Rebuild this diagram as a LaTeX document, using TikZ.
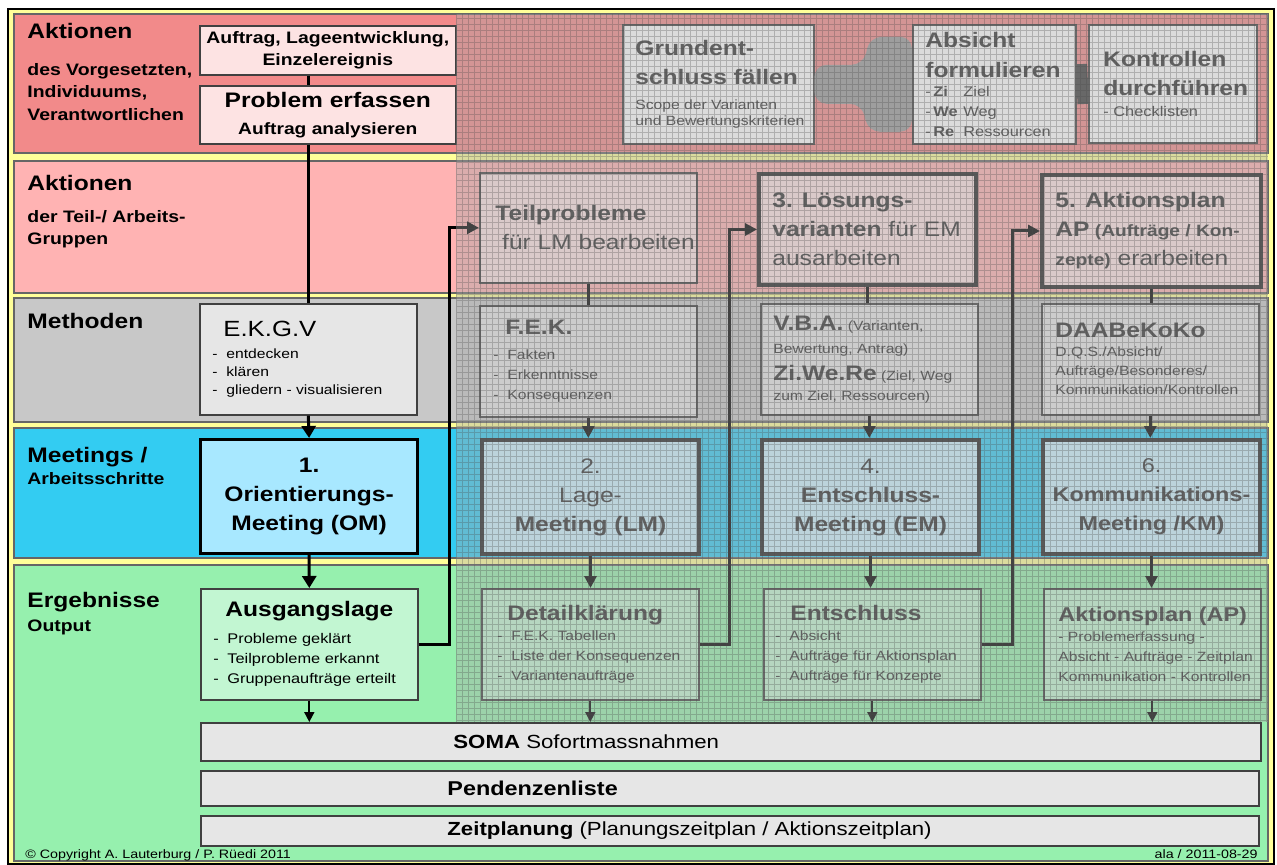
\documentclass[tikz,border=0pt]{standalone}
\usepackage{fontspec}
\setmainfont[FakeStretch=1.17]{Liberation Sans}
\usepackage{xcolor}
\usetikzlibrary{positioning, arrows.meta, calc}

\definecolor{bandred}{HTML}{F28A8A}
\definecolor{bandpink}{HTML}{FFB3B3}
\definecolor{bandgray}{HTML}{C8C8C8}
\definecolor{bandcyan}{HTML}{33CCF2}
\definecolor{bandgreen}{HTML}{96F0AE}
\definecolor{rimyellow}{HTML}{FFFF99}
\definecolor{boxpink}{HTML}{FDE3E3}
\definecolor{boxgray}{HTML}{E6E6E6}
\definecolor{boxcyan}{HTML}{A8E8FF}
\definecolor{boxgreen}{HTML}{C2F6D2}

\newcommand\fbig{\fontsize{10.5}{14.5}\selectfont}
\newcommand\fmid{\fontsize{8.2}{11.2}\selectfont}
\newcommand\fsml{\fontsize{6.7}{10}\selectfont}
\newcommand\itm[1]{\makebox[7pt][l]{-}#1}

\tikzset{
  bandbox/.style={draw=black!60, line width=0.6pt},
  stepbox/.style={draw=black!75, line width=0.8pt, inner sep=0pt, anchor=north west},
  colbox/.style={stepbox, minimum width=108.5pt, minimum height=55.5pt},
  meetbox/.style={colbox, minimum height=57pt, draw=black!85, line width=2pt,
    fill=boxcyan!60!white, align=center, font=\fbig, text=black!80},
  planbox/.style={colbox, draw=black!85, line width=2pt, fill=boxpink},
  boxtext/.style={inner sep=0pt, align=left, font=\fsml},
  dimtext/.style={boxtext, text=black!80},
  bartext/.style={inner sep=0pt, font=\fontsize{9.5}{11}\selectfont},
  bandtitle/.style={anchor=north west, inner sep=0pt, font=\bfseries\fontsize{10.5}{12}\selectfont},
  bandsub/.style={anchor=north west, inner sep=0pt, align=left, font=\bfseries\fontsize{8.3}{11.25}\selectfont},
  link/.style={line width=1.5pt},
  flow/.style={link, -{Triangle[width=7pt,length=6pt]}},
  feed/.style={link, -{Triangle[width=6pt,length=6pt]}},
  thinflow/.style={line width=0.9pt, -{Triangle[width=5pt,length=5pt]}},
}

\begin{document}
\begin{tikzpicture}[x=0.5pt, y=-0.5pt]
  \useasboundingbox (0,0) rectangle (1277,865);
  % Rahmen und Baender
  \draw[fill=rimyellow, line width=1pt] (8,9) rectangle (1274,864);
  \filldraw[bandbox, fill=bandred]   (14,14)  rectangle (1268,153);
  \filldraw[bandbox, fill=bandpink]  (14,161) rectangle (1268,293);
  \filldraw[bandbox, fill=bandgray]  (14,298) rectangle (1268,422);
  \filldraw[bandbox, fill=bandcyan]  (14,428) rectangle (1268,558);
  \filldraw[bandbox, fill=bandgreen] (14,565) rectangle (1268,861);

  \node[bandtitle] (lab1) at (27,23) {Aktionen};
  \node[bandsub] (sub1) at (27,63) {des Vorgesetzten,\\Individuums,\\Verantwortlichen};
  \node[bandtitle] (lab2) at (27,175) {Aktionen};
  \node[bandsub] (sub2) at (27,210) {der Teil-/ Arbeits-\\Gruppen};
  \node[bandtitle] (lab3) at (27,313) {Methoden};
  \node[bandtitle] (lab4) at (27,447) {Meetings /};
  \node[bandsub] (sub4) at (27,472) {Arbeitsschritte};
  \node[bandtitle] (lab5) at (27,592) {Ergebnisse};
  \node[bandsub] (sub5) at (27,620) {Output};

  % Schritt 1
  \node[stepbox, fill=boxpink, minimum width=128pt, minimum height=24.5pt, align=center,
        font=\bfseries\fontsize{8.3}{11}\selectfont] (auftrag) at (199,25) {Auftrag, Lageentwicklung,\\Einzelereignis};
  \node[stepbox, fill=boxpink, minimum width=128pt, minimum height=29pt, align=center,
        font=\bfseries\fontsize{10.5}{13.5}\selectfont] (problem) at (199,85) {Problem erfassen\\{\fmid Auftrag analysieren}};
  \node[colbox, fill=boxgray] (ekgv) at (199,303) {};
  \node[boxtext, right=6.5pt of ekgv.west, font=\fontsize{6.7}{9}\selectfont] (ekgvtxt)
    {\hspace*{5.5pt}{\fontsize{11}{12}\selectfont E.K.G.V}\\[2pt]\itm{entdecken}\\\itm{klären}\\\itm{gliedern - visualisieren}};
  \node[colbox, minimum height=57pt, draw=black, line width=1.6pt, fill=boxcyan, align=center,
        font=\bfseries\fbig] (om) at (199,438) {1.\\Orientierungs-\\Meeting (OM)};
  \node[colbox, fill=boxgreen] (ausg) at (200,588) {};
  \node[boxtext, right=6.5pt of ausg.west, font=\fontsize{7}{10}\selectfont] (ausgtxt)
    {\hspace*{6pt}{\bfseries\fbig Ausgangslage}\\[3.5pt]\itm{Probleme geklärt}\\\itm{Teilprobleme erkannt}\\\itm{Gruppenaufträge erteilt}};

  % Balken
  \node[stepbox, fill=boxgray, minimum width=530pt, minimum height=19pt] (soma) at (200,722) {};
  \node[bartext, right=126.5pt of soma.west] (somatxt) {\textbf{SOMA} Sofortmassnahmen};
  \node[stepbox, fill=boxgray, minimum width=529pt, minimum height=17.5pt] (pend) at (200,770) {};
  \node[bartext, right=123.5pt of pend.west, font=\bfseries\fontsize{10}{11}\selectfont] (pendtxt) {Pendenzenliste};
  \node[stepbox, fill=boxgray, minimum width=529pt, minimum height=15pt] (zeit) at (200,815) {};
  \node[bartext, right=123.5pt of zeit.west] (zeittxt) {\textbf{Zeitplanung} (Planungszeitplan / Aktionszeitplan)};

  % Schritte 2 bis 6
  \node[stepbox, fill=white, minimum width=95.5pt, minimum height=59.5pt] (grund) at (622,24) {};
  \node[dimtext, right=6.5pt of grund.west, font=\fontsize{6.7}{8}\selectfont] (grundtxt)
    {{\bfseries\fbig Grundent-}\\[6.5pt]{\bfseries\fbig schluss fällen}\\[4.5pt]Scope der Varianten\\und Bewertungskriterien};
  \node[stepbox, fill=white, minimum width=81.5pt, minimum height=59.5pt] (absicht) at (912,24) {};
  \node[dimtext, right=6.5pt of absicht.west, font=\fontsize{7}{10}\selectfont] (absichttxt)
    {{\bfseries\fbig Absicht}\\[5pt]{\bfseries\fbig formulieren}\\[-0.5pt]
     \makebox[4pt][l]{-}\makebox[15pt][l]{\bfseries Zi}Ziel\\
     \makebox[4pt][l]{-}\makebox[15pt][l]{\bfseries We}Weg\\
     \makebox[4pt][l]{-}\makebox[15pt][l]{\bfseries Re}Ressourcen};
  \node[stepbox, fill=white, minimum width=84pt, minimum height=59pt] (kontr) at (1088,24) {};
  \node[dimtext, right=7.5pt of kontr.west, font=\fontsize{7}{10.5}\selectfont] (kontrtxt)
    {{\bfseries\fbig Kontrollen}\\[4pt]{\bfseries\fbig durchführen}\\- Checklisten};

  \node[colbox, fill=boxpink, minimum height=55pt] (teil) at (479,172) {};
  \node[dimtext, right=8pt of teil.west, font=\fbig] (teiltxt) {\textbf{Teilprobleme}\\\ für LM bearbeiten};
  \node[planbox] (loes) at (757,172) {};
  \node[dimtext, right=7.5pt of loes.west, font=\fbig] (loestxt)
    {\textbf{3. Lösungs-}\\\textbf{varianten} für EM\\ausarbeiten};
  \node[planbox, minimum width=109.5pt, minimum height=56pt] (aplan5) at (1040,173) {};
  \node[dimtext, right=7.5pt of aplan5.west, font=\fbig] (aplan5txt)
    {\textbf{5. Aktionsplan}\\\textbf{AP}{\bfseries\fmid\ (Aufträge / Kon-}\\{\bfseries\fmid zepte)} erarbeiten};

  \node[colbox, fill=boxgray] (fek) at (479,305) {};
  \node[dimtext, right=7pt of fek.west] (fektxt)
    {\hspace*{6pt}{\bfseries\fbig F.E.K.}\\[2.5pt]\itm{Fakten}\\\itm{Erkenntnisse}\\\itm{Konsequenzen}};
  \node[colbox, fill=boxgray] (vba) at (760,303) {};
  \node[dimtext, right=6.5pt of vba.west] (vbatxt)
    {{\bfseries\fbig V.B.A.} (Varianten,\\[1.5pt]Bewertung, Antrag)\\[3.5pt]{\bfseries\fbig Zi.We.Re} (Ziel, Weg\\zum Ziel, Ressourcen)};
  \node[colbox, fill=boxgray] (daab) at (1041,303) {};
  \node[dimtext, right=7pt of daab.west, font=\fontsize{6.7}{9.5}\selectfont] (daabtxt)
    {{\bfseries\fbig DAABeKoKo}\\D.Q.S./Absicht/\\Aufträge/Besonderes/\\Kommunikation/Kontrollen};

  \node[meetbox] (lm) at (480,438) {2.\\Lage-\\\textbf{Meeting (LM)}};
  \node[meetbox] (em) at (760,438) {4.\\\textbf{Entschluss-}\\\textbf{Meeting (EM)}};
  \node[meetbox, font=\fontsize{10}{14.5}\selectfont] (km) at (1041,438) {6.\\\textbf{Kommunikations-}\\\textbf{Meeting /KM)}};

  \node[colbox, fill=boxgreen] (detail) at (481,588) {};
  \node[dimtext, right=8pt of detail.west] (detailtxt)
    {\hspace*{5pt}{\bfseries\fbig Detailklärung}\\\itm{F.E.K. Tabellen}\\\itm{Liste der Konsequenzen}\\\itm{Variantenaufträge}};
  \node[colbox, fill=boxgreen] (entsch) at (763,588) {};
  \node[dimtext, right=6pt of entsch.west] (entschtxt)
    {\hspace*{7.5pt}{\bfseries\fbig Entschluss}\\\itm{Absicht}\\\itm{Aufträge für Aktionsplan}\\\itm{Aufträge für Konzepte}};
  \node[colbox, fill=boxgreen] (ap) at (1043,588) {};
  \node[dimtext, right=7.5pt of ap.west] (aptxt)
    {{\bfseries\fontsize{10}{12}\selectfont Aktionsplan (AP)}\\- Problemerfassung -\\Absicht - Aufträge - Zeitplan\\Kommunikation - Kontrollen};

  % Verbindungen
  \draw[link] (ekgv.north |- auftrag.south) -- (ekgv.north |- problem.north);
  \draw[link] (ekgv.north |- problem.south) -- (ekgv.north);
  \draw[flow] (ekgv.south) -- (om.north);
  \draw[flow] (om.south) -- (ausg.north);
  \draw[thinflow] (ausg.south) -- (ausg.south |- soma.north);
  \draw[feed] (ausg.east) -- ++(31,0) |- (teil.west);
  \draw[feed] (detail.east) -- ++(30,0) |- (loes.west);
  \draw[feed] (entsch.east) -- ++(31,0) |- (aplan5.west);
  \draw[link] (teil.south) -- (teil.south |- fek.north);
  \draw[link] (loes.south) -- (loes.south |- vba.north);
  \draw[link] (aplan5.south) -- (aplan5.south |- daab.north);
  \draw[feed] (fek.south) -- (fek.south |- lm.north);
  \draw[feed] (vba.south) -- (vba.south |- em.north);
  \draw[feed] (daab.south) -- (daab.south |- km.north);
  \draw[feed] (lm.south) -- (lm.south |- detail.north);
  \draw[feed] (em.south) -- (em.south |- entsch.north);
  \draw[feed] (km.south) -- (km.south |- ap.north);
  \draw[thinflow] (detail.south) -- (detail.south |- soma.north);
  \draw[thinflow] (entsch.south) -- (entsch.south |- soma.north);
  \draw[thinflow] (ap.south) -- (ap.south |- soma.north);
  \fill[black!40, rounded corners=6pt] ($(grund.east)+(0,-19.5)$) -- ++(49,0) -- ++(6,-28)
    -- ($(absicht.west)+(0,-47.5)$) -- ($(absicht.west)+(0,47.5)$) -- ++(-44,0) -- ++(-6,-28)
    -- ($(grund.east)+(0,19.5)$) -- cycle;
  \draw[black!75, line width=20pt] (absicht.east) -- (kontr.west);

  % Raster ueber den offenen Schritten
  \fill[black!35, opacity=.4] (456,14) rectangle (1268,722);
  \draw[black!70, opacity=.3, line width=.3pt, step=3pt] (456,14) grid (1268,722);

  \node[anchor=base west, inner sep=0pt, font=\fontsize{6.1}{7}\selectfont] (copy) at (25,858)
    {© Copyright A. Lauterburg / P. Rüedi 2011};
  \node[anchor=base east, inner sep=0pt, font=\fontsize{6.1}{7}\selectfont] (stamp) at (1258,858)
    {ala / 2011-08-29};
\end{tikzpicture}
\end{document}
